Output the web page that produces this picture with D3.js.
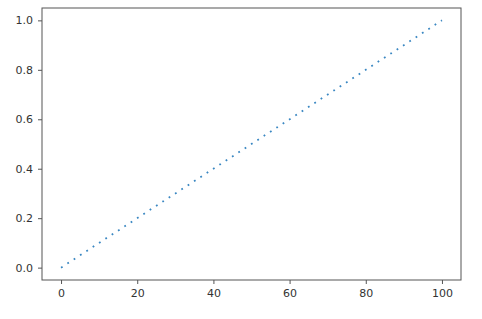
<!DOCTYPE html>
<html>
<head>
<meta charset="utf-8">
<script src="https://cdn.jsdelivr.net/npm/d3@7"></script>
<style>
  body { margin: 0; background: #fff; }
  .axis text { font-family: "DejaVu Sans", sans-serif; font-size: 11px; fill: #333; }
  .axis path, .axis line { stroke: #555; }
</style>
</head>
<body>
<div id="chart"></div>
<script>
// data
var xValues = [0, 100];
var yValues = [0.0, 1.0];
var xTicks = [0, 20, 40, 60, 80, 100];
var yTicks = [0.0, 0.2, 0.4, 0.6, 0.8, 1.0];

var width = 482, height = 319;
var margin = {top: 8, right: 21, bottom: 39, left: 42};
var plotW = width - margin.left - margin.right,
    plotH = height - margin.top - margin.bottom;

var svg = d3.select("#chart").append("svg")
    .attr("width", width)
    .attr("height", height);

var g = svg.append("g")
    .attr("transform", "translate(" + margin.left + "," + margin.top + ")");

// matplotlib-like 5% margins
var x = d3.scaleLinear().domain([-5, 105]).range([0, plotW]);
var y = d3.scaleLinear().domain([-0.05, 1.05]).range([plotH, 0]);

var line = d3.line()
    .x(function(d, i) { return x(xValues[i]); })
    .y(function(d, i) { return y(yValues[i]); });

// dotted line
g.append("path")
    .datum(xValues)
    .style("fill", "none")
    .style("stroke", "#3a87c2")
    .style("stroke-width", "1.8px")
    .style("stroke-dasharray", "1.8,5.75")
    .attr("d", line);

// axes
g.append("g")
    .attr("class", "axis")
    .attr("transform", "translate(0," + plotH + ")")
    .call(d3.axisBottom(x).tickValues(xTicks).tickSize(4).tickPadding(5).tickSizeOuter(0))
    .select(".domain").remove();

g.append("g")
    .attr("class", "axis")
    .call(d3.axisLeft(y).tickValues(yTicks).tickFormat(d3.format(".1f")).tickSize(4).tickPadding(5).tickSizeOuter(0))
    .select(".domain").remove();

// frame (spines)
g.append("rect")
    .attr("x", 0)
    .attr("y", 0)
    .attr("width", plotW)
    .attr("height", plotH)
    .style("fill", "none")
    .style("stroke", "#555")
    .style("stroke-width", "1px");
</script>
</body>
</html>
